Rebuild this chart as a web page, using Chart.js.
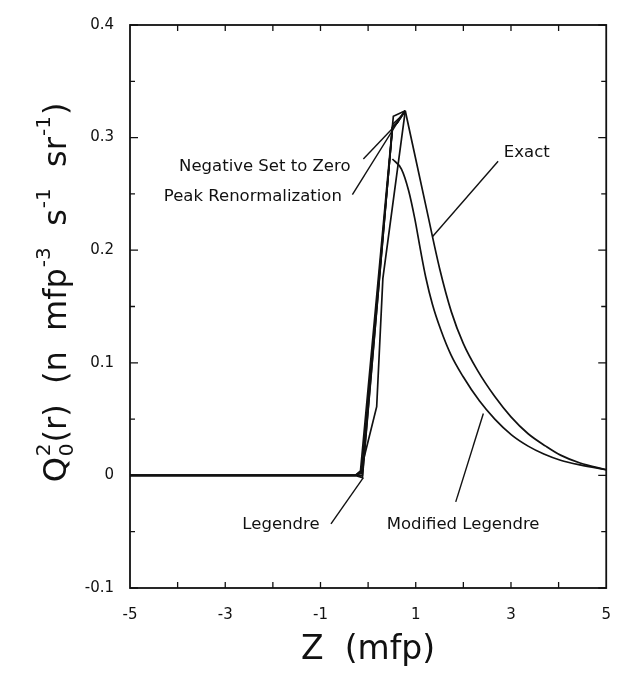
<!DOCTYPE html>
<html>
<head>
<meta charset="utf-8">
<script src="https://cdn.jsdelivr.net/npm/chart.js@4.4.0/dist/chart.umd.min.js"></script>
<style>
  html, body { margin: 0; padding: 0; background: #fff; }
  #wrap { width: 629px; height: 688px; }
</style>
</head>
<body>
<div id="wrap"><canvas id="chart"></canvas></div>
<script>
// values: Z in mfp, Q in n mfp^-3 s^-1 sr^-1
// decay after the peak, shared by the exact solution and the three corrected expansions
const tailZ = [0.78, 1.23, 1.5, 1.75, 2.0, 2.3, 2.66, 3.0, 3.36, 3.73, 4.04, 4.45, 5];
const tailQ = [0.3238, 0.236, 0.184, 0.145, 0.117, 0.093, 0.07, 0.052, 0.037, 0.026, 0.018, 0.011, 0.005];

const exactZ = [-5, -0.27, -0.16, 0.51, 0.53];
const exactQ = [0, 0, 0.004, 0.31, 0.319];

const legendreZ = [-5, -0.27, -0.12, 0.51, 0.61];
const legendreQ = [0, 0, -0.002, 0.309, 0.313];

const negZeroZ = [-5, -0.27, -0.12, 0.51, 0.61];
const negZeroQ = [0, 0, 0, 0.309, 0.313];

const renormZ = [-5, -0.27, -0.14, 0.52, 0.65];
const renormQ = [0, 0, 0.002, 0.312, 0.317];

const modLegRiseZ = [-5, -0.27, -0.16, 0.18, 0.31, 0.51];
const modLegRiseQ = [0, 0, 0.003, 0.061, 0.175, 0.281];
const modLegTailZ = [0.51, 0.7, 0.85, 0.98, 1.1, 1.21, 1.35, 1.52, 1.74, 1.99, 2.34, 2.66, 3.01, 3.36, 3.69, 4.04, 4.45, 5];
const modLegTailQ = [0.281, 0.272, 0.253, 0.228, 0.2, 0.176, 0.152, 0.13, 0.107, 0.088, 0.066, 0.05, 0.036, 0.026, 0.019, 0.0135, 0.0093, 0.005];

const xTickLabels = [-5, -3, -1, 1, 3, 5];
const yTickLabels = [-0.1, 0, 0.1, 0.2, 0.3, 0.4];

// curve labels with leader lines, in data units
const notes = [
  { text: 'Negative Set to Zero', at: [-0.37, 0.2745], align: 'right', from: [-0.10, 0.281], to: [0.51, 0.308] },
  { text: 'Peak Renormalization', at: [-0.55, 0.2475], align: 'right', from: [-0.33, 0.2494], to: [0.64, 0.315] },
  { text: 'Exact', at: [2.85, 0.287], align: 'left', from: [2.73, 0.279], to: [1.35, 0.212] },
  { text: 'Legendre', at: [-1.02, -0.044], align: 'right', from: [-0.78, -0.043], to: [-0.10, -0.002] },
  { text: 'Modified Legendre', at: [0.39, -0.044], align: 'left', from: [1.84, -0.0235], to: [2.42, 0.055] }
];

function pts(zs, qs) {
  return zs.map((z, i) => ({ x: z, y: qs[i] }));
}

// rising part up to the peak: straight segments
function head(label, zs, qs) {
  return {
    label: label,
    data: pts(zs.concat(tailZ[0]), qs.concat(tailQ[0])),
    showLine: true,
    borderColor: '#111',
    borderWidth: 1.7,
    pointRadius: 0,
    tension: 0
  };
}

// decay after the peak: smooth
function tail(label, zs, qs) {
  return {
    label: label,
    data: pts(zs, qs),
    showLine: true,
    borderColor: '#111',
    borderWidth: 1.7,
    pointRadius: 0,
    cubicInterpolationMode: 'monotone'
  };
}

const font = '"DejaVu Sans", sans-serif';

const frame = {
  id: 'frame',
  afterDatasetsDraw(chart) {
    const ctx = chart.ctx;
    const a = chart.chartArea;
    const xs = chart.scales.x;
    const ys = chart.scales.y;
    ctx.save();
    ctx.strokeStyle = '#111';
    ctx.lineWidth = 1.8;
    ctx.strokeRect(a.left, a.top, a.right - a.left, a.bottom - a.top);
    ctx.lineWidth = 1.3;
    ctx.beginPath();
    for (let i = 0; i <= 10; i++) {
      const v = -0.1 + i * 0.05;
      const py = ys.getPixelForValue(v);
      const len = i % 2 === 0 ? 8 : 5;
      ctx.moveTo(a.left, py); ctx.lineTo(a.left + len, py);
      ctx.moveTo(a.right, py); ctx.lineTo(a.right - len, py);
    }
    for (let z = -4; z <= 4; z++) {
      const px = xs.getPixelForValue(z);
      ctx.moveTo(px, a.bottom); ctx.lineTo(px, a.bottom - 6);
      ctx.moveTo(px, a.top); ctx.lineTo(px, a.top + 6);
    }
    ctx.stroke();

    // curve labels
    ctx.lineWidth = 1.4;
    ctx.fillStyle = '#111';
    ctx.font = '16.5px ' + font;
    ctx.textBaseline = 'middle';
    notes.forEach(n => {
      ctx.beginPath();
      ctx.moveTo(xs.getPixelForValue(n.from[0]), ys.getPixelForValue(n.from[1]));
      ctx.lineTo(xs.getPixelForValue(n.to[0]), ys.getPixelForValue(n.to[1]));
      ctx.stroke();
      ctx.textAlign = n.align;
      ctx.fillText(n.text, xs.getPixelForValue(n.at[0]), ys.getPixelForValue(n.at[1]));
    });

    // x title
    ctx.font = '33px ' + font;
    ctx.textAlign = 'center';
    ctx.fillText('Z  (mfp)', (a.left + a.right) / 2, 650);

    // y title with sub/superscripts
    const big = '32px ' + font;
    const small = '20px ' + font;
    const parts = [
      { t: 'Q', f: big, dy: 0 },
      { t: '2', f: small, dy: -13, stack: '0', sdy: 10 },
      { t: '(r)  (n  mfp', f: big, dy: 0 },
      { t: '-3', f: small, dy: -13 },
      { t: '  s', f: big, dy: 0 },
      { t: '-1', f: small, dy: -13 },
      { t: '  sr', f: big, dy: 0 },
      { t: '-1', f: small, dy: -13 },
      { t: ')', f: big, dy: 0 }
    ];
    let total = 0;
    parts.forEach(p => { ctx.font = p.f; p.w = ctx.measureText(p.t).width + 1; total += p.w; });
    ctx.translate(58, 292);
    ctx.rotate(-Math.PI / 2);
    ctx.textAlign = 'left';
    let cx = -total / 2;
    parts.forEach(p => {
      ctx.font = p.f;
      ctx.fillText(p.t, cx, p.dy);
      if (p.stack) ctx.fillText(p.stack, cx, p.sdy);
      cx += p.w;
    });
    ctx.restore();
  }
};

new Chart(document.getElementById('chart'), {
  type: 'scatter',
  data: {
    datasets: [
      head('Exact', exactZ, exactQ),
      head('Legendre', legendreZ, legendreQ),
      head('Negative Set to Zero', negZeroZ, negZeroQ),
      head('Peak Renormalization', renormZ, renormQ),
      tail('Exact (decay)', tailZ, tailQ),
      head('Modified Legendre', modLegRiseZ.slice(0, -1), modLegRiseQ.slice(0, -1)),
      tail('Modified Legendre (decay)', modLegTailZ, modLegTailQ)
    ]
  },
  options: {
    responsive: true,
    maintainAspectRatio: false,
    animation: false,
    layout: { padding: { top: 19, right: 11, left: 0, bottom: 0 } },
    plugins: { legend: { display: false }, tooltip: { enabled: false } },
    scales: {
      x: {
        type: 'linear',
        min: -5,
        max: 5,
        afterBuildTicks: s => { s.ticks = xTickLabels.map(v => ({ value: v })); },
        afterFit: s => { s.height = 100; },
        grid: { display: false, drawTicks: false },
        border: { display: false },
        ticks: { color: '#111', font: { family: font, size: 15 }, padding: 18, maxRotation: 0 }
      },
      y: {
        min: -0.1,
        max: 0.4,
        afterBuildTicks: s => { s.ticks = yTickLabels.map(v => ({ value: v })); },
        afterFit: s => { s.width = 130; },
        grid: { display: false, drawTicks: false },
        border: { display: false },
        ticks: {
          color: '#111',
          font: { family: font, size: 15 },
          padding: 16,
          callback: v => (Math.abs(v) < 1e-9 ? '0' : v.toFixed(1))
        }
      }
    }
  },
  plugins: [frame]
});
</script>
</body>
</html>
